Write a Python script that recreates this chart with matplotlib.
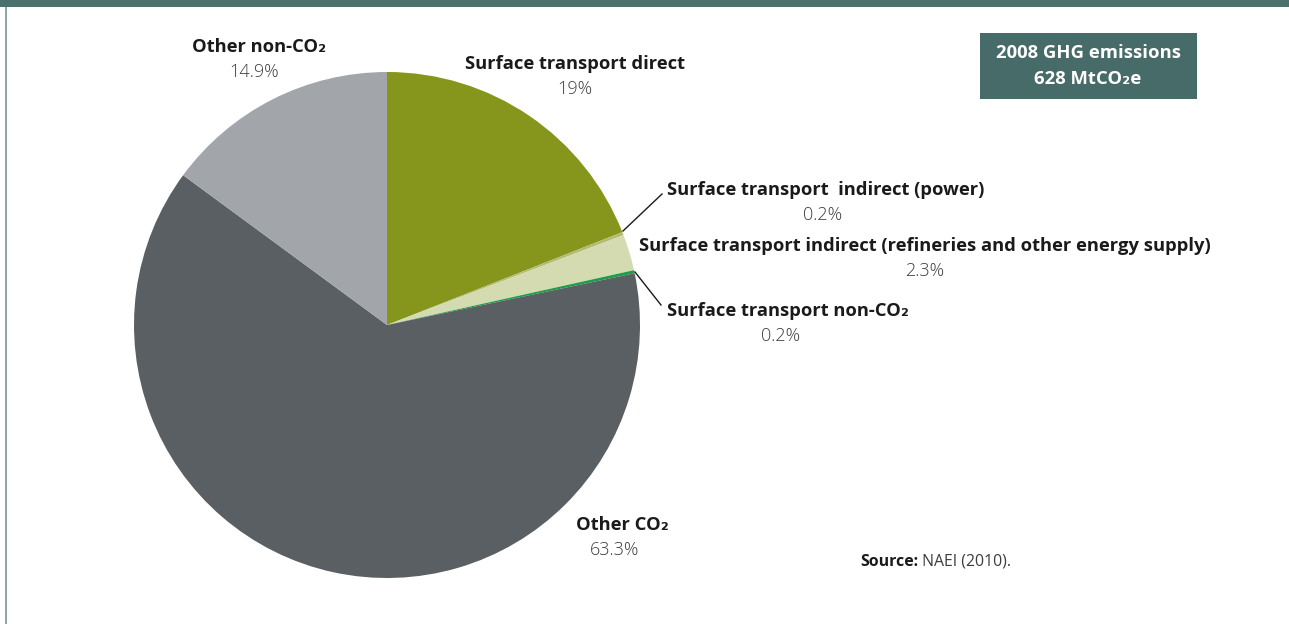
import matplotlib
matplotlib.use("Agg")
import matplotlib.pyplot as plt
from matplotlib.patches import Rectangle

# data
labels = ["Surface transport direct", "Surface transport  indirect (power)",
          "Surface transport indirect (refineries and other energy supply)",
          "Surface transport non-CO\u2082", "Other CO\u2082", "Other non-CO\u2082"]
shares = [19.0, 0.2, 2.3, 0.2, 63.3, 14.9]
pct_text = ["19%", "0.2%", "2.3%", "0.2%", "63.3%", "14.9%"]
colors = ["#86951b", "#b3ba72", "#d5dbb0", "#1a9e48", "#5a5f63", "#a2a5a9"]

W, H = 1289, 624
fonts = ["Open Sans", "DejaVu Sans"]

fig = plt.figure(figsize=(W / 100, H / 100), dpi=100)
ax = fig.add_axes([0, 0, 1, 1])

ax.pie(shares, colors=colors, startangle=90, counterclock=False,
       center=(387, H - 325), radius=253, wedgeprops=dict(linewidth=0))
ax.set_xlim(0, W)
ax.set_ylim(0, H)
ax.set_aspect("auto")
ax.axis("off")

# frame: top bar and left rule
ax.add_patch(Rectangle((0, H - 7), W, 7, color="#4b716c", lw=0))
ax.add_patch(Rectangle((5, 0), 2, H - 7, color="#8ea7a4", lw=0))

# label positions (x, y of name, alignment, pct x)
lab_pos = [(575, 64, "center", 575),
           (667, 190, "left", 823),
           (639, 246, "left", 925),
           (667, 311, "left", 781),
           (622, 525, "center", 615),
           (259, 47, "center", 254)]

for name, pct, (x, y, ha, px) in zip(labels, pct_text, lab_pos):
    ax.text(x, H - y, name, ha=ha, va="center", fontsize=13.2, fontweight="bold",
            color="#1a1a1a", family=fonts)
    ax.text(px, H - y - 25, pct, ha="center", va="center", fontsize=13,
            fontweight="light", color="#3d3d3d", family=fonts)

# leader lines
ax.plot([623, 662], [H - 231, H - 194], color="#1a1a1a", lw=1)
ax.plot([635, 661], [H - 272, H - 305], color="#1a1a1a", lw=1)

# info box
ax.add_patch(Rectangle((980, H - 99), 217, 66, color="#476b68", lw=0))
ax.text(1088, H - 53, "2008 GHG emissions", ha="center", va="center",
        fontsize=13.3, fontweight="bold", color="white", family=fonts)
ax.text(1088, H - 79, "628 MtCO\u2082e", ha="center", va="center",
        fontsize=13.3, fontweight="bold", color="white", family=fonts)

# source
t = ax.text(860, H - 562, "Source:", ha="left", va="center", fontsize=11.4,
            fontweight="bold", color="#1a1a1a", family=fonts)
ax.annotate(" NAEI (2010).", xycoords=t, xy=(1, 0.5), va="center",
            fontsize=11.4, color="#3d3d3d", family=fonts)

fig.savefig("out.png", dpi=100)
